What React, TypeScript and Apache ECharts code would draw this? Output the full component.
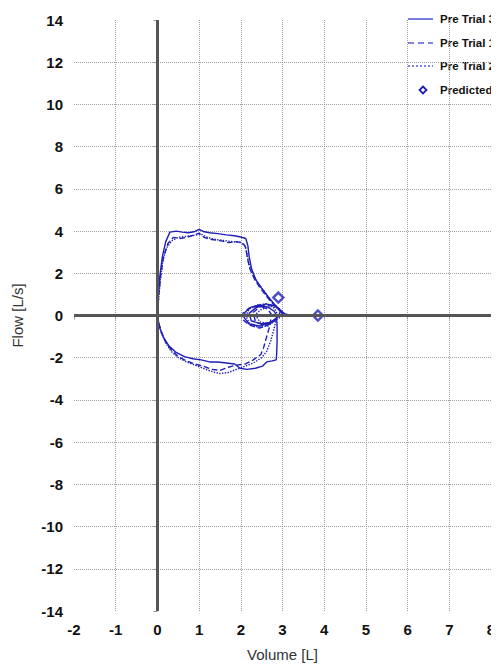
import React, { useEffect, useRef } from "react";
import * as echarts from "echarts";

// Flow-volume loops: [volume L, flow L/s] in recording order
// (tidal breathing, full inspiration to TLC, forced expiration).
const preTrial3: number[][] = [
  [2.86, 0], [2.8, 0.2], [2.65, 0.4], [2.45, 0.5], [2.25, 0.4], [2.1, 0.15], [2.08, -0.1],
  [2.2, -0.4], [2.45, -0.5], [2.7, -0.35], [2.9, -0.05], [2.95, 0.2], [2.85, 0.45],
  [2.6, 0.55], [2.35, 0.35], [2.2, 0.1], [2.25, -0.25], [2.5, -0.4], [2.75, -0.3], [2.86, -0.1],
  [2.87, -0.5], [2.87, -1.2], [2.86, -1.8], [2.85, -2.1], [2.75, -2.15], [2.62, -2.2],
  [2.52, -2.4], [2.35, -2.5], [2.15, -2.55], [1.98, -2.5], [1.85, -2.3], [1.65, -2.25],
  [1.45, -2.2], [1.25, -2.2], [1.05, -2.1], [0.85, -2.05], [0.65, -1.95], [0.45, -1.75],
  [0.28, -1.45], [0.15, -1.05], [0.06, -0.6], [0.01, -0.2], [0, 0],
  [0.02, 0.9], [0.06, 1.9], [0.12, 2.8], [0.2, 3.5], [0.3, 3.95], [0.45, 4.0], [0.6, 3.95],
  [0.75, 3.92], [0.9, 3.98], [1.0, 4.08], [1.1, 3.98], [1.25, 3.92], [1.45, 3.88],
  [1.65, 3.82], [1.85, 3.78], [2.0, 3.72], [2.12, 3.65], [2.17, 3.3], [2.2, 2.8],
  [2.26, 2.2], [2.36, 1.7], [2.5, 1.3], [2.65, 0.9], [2.8, 0.55], [2.95, 0.25],
  [3.05, 0.08], [3.2, 0.02], [3.35, 0],
];

const preTrial1: number[][] = [
  [2.75, 0], [2.65, 0.3], [2.45, 0.45], [2.2, 0.35], [2.05, 0.1], [2.05, -0.2], [2.2, -0.45],
  [2.45, -0.6], [2.65, -0.45], [2.85, -0.15], [3.0, 0.1], [2.9, 0.35], [2.7, 0.5],
  [2.45, 0.4], [2.3, 0.15], [2.35, -0.3], [2.6, -0.5], [2.72, -0.2],
  [2.68, -0.6], [2.62, -1.0], [2.55, -1.5], [2.48, -1.85], [2.3, -2.1], [2.1, -2.3],
  [1.9, -2.35], [1.7, -2.45], [1.5, -2.6], [1.3, -2.55], [1.1, -2.4], [0.9, -2.3],
  [0.7, -2.15], [0.5, -1.95], [0.32, -1.6], [0.18, -1.2], [0.08, -0.7], [0.02, -0.25], [0, 0],
  [0.03, 0.9], [0.08, 1.9], [0.15, 2.8], [0.25, 3.4], [0.38, 3.7], [0.55, 3.65], [0.7, 3.7],
  [0.85, 3.8], [1.0, 3.9], [1.12, 3.7], [1.3, 3.6], [1.5, 3.55], [1.7, 3.45], [1.9, 3.5],
  [2.05, 3.45], [2.12, 3.2], [2.16, 2.7], [2.22, 2.2], [2.32, 1.75], [2.45, 1.35],
  [2.6, 0.95], [2.75, 0.6], [2.9, 0.3], [3.0, 0.1], [3.1, 0],
];

const preTrial2: number[][] = [
  [2.9, 0], [2.8, 0.35], [2.6, 0.55], [2.4, 0.5], [2.2, 0.3], [2.12, 0], [2.2, -0.35],
  [2.4, -0.55], [2.65, -0.5], [2.85, -0.2], [3.05, 0.05], [2.95, 0.3], [2.75, 0.45],
  [2.5, 0.3], [2.35, 0.05], [2.45, -0.3], [2.7, -0.4], [2.85, -0.2],
  [2.8, -0.6], [2.72, -1.2], [2.62, -1.7], [2.5, -2.0], [2.3, -2.25], [2.1, -2.4],
  [1.9, -2.55], [1.7, -2.7], [1.5, -2.75], [1.3, -2.65], [1.1, -2.5], [0.9, -2.35],
  [0.7, -2.2], [0.5, -2.0], [0.33, -1.7], [0.2, -1.3], [0.09, -0.8], [0.03, -0.3], [0, 0],
  [0.03, 0.8], [0.07, 1.7], [0.13, 2.6], [0.22, 3.2], [0.35, 3.55], [0.5, 3.7], [0.7, 3.75],
  [0.9, 3.8], [1.05, 3.85], [1.2, 3.7], [1.4, 3.6], [1.6, 3.55], [1.8, 3.5], [2.0, 3.45],
  [2.1, 3.3], [2.15, 2.9], [2.2, 2.4], [2.3, 1.9], [2.42, 1.5], [2.58, 1.1], [2.72, 0.7],
  [2.88, 0.35], [3.0, 0.12], [3.15, 0.02], [3.3, 0],
];

const predicted: number[][] = [
  [2.9, 0.85],
  [3.85, 0],
];

const legendNames = ["Pre Trial 3", "Pre Trial 1", "Pre Trial 2", "Predicted"];
const legendDash: (number[] | null)[] = [null, [6, 4], [2, 2]];

const BLUE = "#1f1fb8";
const FONT = "Arial, 'Liberation Sans', sans-serif";

export default function App() {
  const ref = useRef<HTMLDivElement>(null);

  useEffect(() => {
    if (!ref.current) return;
    const chart = echarts.init(ref.current, undefined, { renderer: "svg" });

    const axisCommon = {
      type: "value" as const,
      interval: 1,
      axisLine: { show: false },
      axisTick: { show: true, length: 4, lineStyle: { color: "#999", width: 1 } },
      splitLine: {
        show: true,
        showMinLine: false,
        showMaxLine: false,
        lineStyle: { color: "#a0a0a0", type: "dotted" as const, width: 1 },
      },
      axisLabel: {
        color: "#111",
        fontFamily: FONT,
        fontWeight: "bold" as const,
        fontSize: 15,
      },
      nameTextStyle: { color: "#333", fontFamily: FONT, fontSize: 15 },
      nameLocation: "middle" as const,
    };

    const lineSeries = (name: string, data: number[][], type: "solid" | "dashed" | "dotted") => ({
      name,
      type: "line" as const,
      data,
      showSymbol: false,
      symbol: "none",
      z: 3,
      lineStyle: { color: BLUE, width: 1.4, type },
      itemStyle: { color: BLUE },
    });

    // Legend key drawn as graphics so each entry keeps its own line style
    const rowY = [11, 35, 58, 82];
    const legendGraphics: any[] = [];
    legendNames.forEach((name, i) => {
      if (i < 3) {
        const dash = legendDash[i];
        legendGraphics.push({
          type: "line",
          shape: { x1: 400, y1: rowY[i], x2: 425, y2: rowY[i] },
          style: {
            stroke: "#5a5ad6",
            lineWidth: 1.6,
            lineDash: dash || undefined,
          },
          silent: true,
        });
      } else {
        legendGraphics.push({
          type: "polygon",
          shape: {
            points: [
              [415, rowY[i] - 3.5],
              [418.5, rowY[i]],
              [415, rowY[i] + 3.5],
              [411.5, rowY[i]],
            ],
          },
          style: { fill: "#fff", stroke: BLUE, lineWidth: 1.8 },
          silent: true,
        });
      }
      legendGraphics.push({
        type: "text",
        x: 432,
        y: rowY[i],
        style: {
          text: name,
          fill: "#111",
          font: `bold 11.5px ${FONT}`,
          verticalAlign: "middle",
          align: "left",
        },
        silent: true,
      });
    });

    chart.setOption({
      animation: false,
      grid: { left: 66, right: 8, top: 12, bottom: 55, outerBoundsMode: "none" },
      xAxis: {
        ...axisCommon,
        min: -2,
        max: 8,
        name: "Volume [L]",
        nameGap: 36,
        axisLabel: { ...axisCommon.axisLabel, margin: 11 },
      },
      yAxis: {
        ...axisCommon,
        min: -14,
        max: 14,
        interval: 2,
        name: "Flow [L/s]",
        nameGap: 49,
        axisLabel: { ...axisCommon.axisLabel, margin: 11 },
      },
      graphic: legendGraphics,
      series: [
        {
          name: "zero",
          type: "line",
          data: [],
          z: 1,
          markLine: {
            silent: true,
            symbol: ["none", "none"],
            label: { show: false },
            lineStyle: { color: "#555", width: 3, type: "solid" },
            data: [{ xAxis: 0 }, { yAxis: 0 }],
          },
        },
        lineSeries("Pre Trial 3", preTrial3, "solid"),
        lineSeries("Pre Trial 1", preTrial1, "dashed"),
        lineSeries("Pre Trial 2", preTrial2, "dotted"),
        {
          name: "Predicted",
          type: "scatter",
          data: predicted,
          symbol: "diamond",
          symbolSize: 10,
          z: 4,
          itemStyle: { color: "#fff", borderColor: BLUE, borderWidth: 2.4 },
        },
      ],
    });

    return () => chart.dispose();
  }, []);

  return <div ref={ref} style={{ width: 491, height: 658 }} />;
}
